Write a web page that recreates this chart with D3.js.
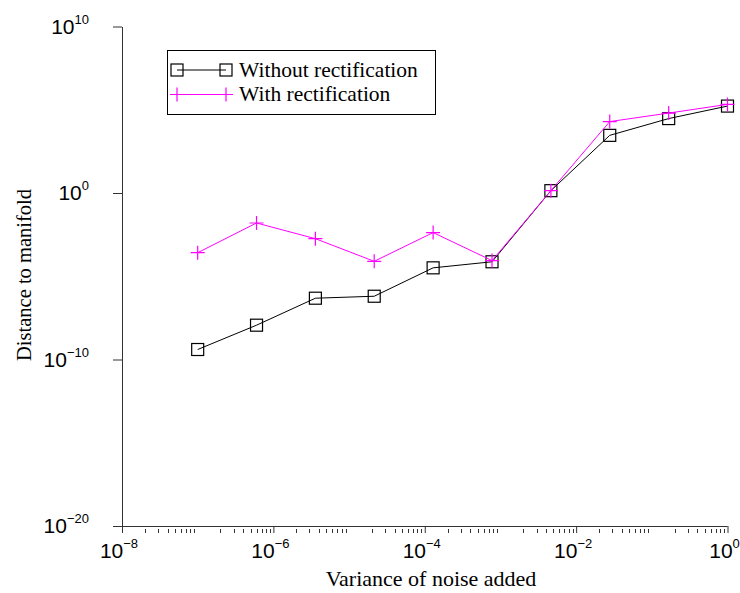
<!DOCTYPE html>
<html><head><meta charset="utf-8">
<script src="https://cdn.jsdelivr.net/npm/d3@7"></script>
<style>body{margin:0;background:#fff}svg{display:block}</style>
</head><body>
<script>
const noiseVariance = [1e-7, 5.99e-7, 3.59e-6, 2.15e-5, 1.29e-4, 7.74e-4, 4.64e-3, 2.78e-2, 1.67e-1, 1];
const withoutRect = [3.98e-10, 1.15e-8, 4.8e-7, 6.3e-7, 3.2e-5, 7.4e-5, 1.38, 2.9e3, 2.95e4, 1.66e5];
const withRect = [2.6e-4, 1.58e-2, 1.8e-3, 7.9e-5, 4.2e-3, 8.7e-5, 1.38, 1.95e4, 6.3e4, 2.1e5];
const xTickExps = [-8, -6, -4, -2, 0];
const yTickExps = [10, 0, -10, -20];
const seriesNames = ["Without rectification", "With rectification"];

const W = 740, H = 593;
const svg = d3.select("body").append("svg").attr("width", W).attr("height", H);
const x = d3.scaleLog().domain([1e-8, 1]).range([122, 727.5]);
const y = d3.scaleLog().domain([1e-20, 1e10]).range([526, 26.5]);
const axisColor = "#333";

// x axis
const gx = svg.append("g").attr("transform", `translate(0,${y(1e-20)})`)
  .call(d3.axisBottom(x).tickValues(xTickExps.map(e => Math.pow(10, e))).tickSize(7).tickFormat("").tickSizeOuter(0));
gx.select(".domain").attr("stroke", axisColor).attr("d", `M113,0.5H${x(1)}`);
gx.selectAll(".tick line").attr("stroke", axisColor);
// minor ticks
const minors = [];
for (let e = -8; e < 0; e++) for (let k = 2; k <= 9; k++) minors.push(k * Math.pow(10, e));
svg.append("g").selectAll("line").data(minors).join("line")
  .attr("x1", d => Math.round(x(d)) + 0.5).attr("x2", d => Math.round(x(d)) + 0.5)
  .attr("y1", y(1e-20) + 3).attr("y2", y(1e-20) + 7)
  .attr("stroke", axisColor).attr("stroke-width", 1);
// x labels
xTickExps.forEach(e => {
  const t = svg.append("text").attr("x", x(Math.pow(10, e)) - 3).attr("y", y(1e-20) + 32)
    .attr("text-anchor", "middle").attr("font-family", "Liberation Sans, Arial, sans-serif").attr("font-size", 21).attr("fill", "#000");
  t.append("tspan").text("10");
  t.append("tspan").attr("dy", -10).attr("font-size", 13).text(e < 0 ? "\u2212" + (-e) : String(e));
});

// y axis
const gy = svg.append("g").attr("transform", `translate(${x(1e-8)},0)`)
  .call(d3.axisLeft(y).tickValues(yTickExps.map(e => Math.pow(10, e))).tickSize(9).tickFormat("").tickSizeOuter(0));
gy.select(".domain").attr("stroke", axisColor);
gy.selectAll(".tick line").attr("stroke", axisColor);
yTickExps.forEach(e => {
  const t = svg.append("text").attr("x", 89).attr("y", y(Math.pow(10, e)) + 7)
    .attr("text-anchor", "end").attr("font-family", "Liberation Sans, Arial, sans-serif").attr("font-size", 21).attr("fill", "#000");
  t.append("tspan").text("10");
  t.append("tspan").attr("dy", -10).attr("font-size", 13).text(e < 0 ? "\u2212" + (-e) : String(e));
});

// titles
svg.append("text").attr("x", 431).attr("y", 586).attr("text-anchor", "middle")
  .attr("font-family", "Liberation Serif, Times New Roman, serif").attr("font-size", 22).text("Variance of noise added");
svg.append("text").attr("transform", "translate(31,275) rotate(-90)").attr("text-anchor", "middle")
  .attr("font-family", "Liberation Serif, Times New Roman, serif").attr("font-size", 20.5).text("Distance to manifold");

// series
const line = d3.line().x(d => x(d[0])).y(d => y(d[1]));
const dWithout = noiseVariance.map((v, i) => [v, withoutRect[i]]);
const dWith = noiseVariance.map((v, i) => [v, withRect[i]]);
svg.append("path").attr("d", line(dWithout)).attr("fill", "none").attr("stroke", "#000").attr("stroke-width", 1);
svg.append("g").selectAll("rect").data(dWithout).join("rect")
  .attr("x", d => x(d[0]) - 6).attr("y", d => y(d[1]) - 6).attr("width", 12).attr("height", 12)
  .attr("fill", "none").attr("stroke", "#000").attr("stroke-width", 1.2);
svg.append("path").attr("d", line(dWith)).attr("fill", "none").attr("stroke", "#ff00ff").attr("stroke-width", 1);
const plus = (g, cx, cy) => {
  g.append("path").attr("d", `M${cx - 7},${cy}H${cx + 7}M${cx},${cy - 7}V${cy + 7}`)
    .attr("stroke", "#ff00ff").attr("stroke-width", 1.2).attr("fill", "none");
};
const gp = svg.append("g");
dWith.forEach(d => plus(gp, x(d[0]), y(d[1])));

// legend
const lg = svg.append("g");
lg.append("rect").attr("x", 167.5).attr("y", 50.5).attr("width", 268).attr("height", 64)
  .attr("fill", "#fff").attr("stroke", "#000").attr("stroke-width", 1);
const rows = [70, 94.5];
lg.append("line").attr("x1", 177).attr("x2", 226).attr("y1", rows[0]).attr("y2", rows[0]).attr("stroke", "#000");
[177, 226].forEach(cx => lg.append("rect").attr("x", cx - 6).attr("y", rows[0] - 6).attr("width", 12).attr("height", 12)
  .attr("fill", "none").attr("stroke", "#000").attr("stroke-width", 1.2));
lg.append("line").attr("x1", 177).attr("x2", 226).attr("y1", rows[1]).attr("y2", rows[1]).attr("stroke", "#ff00ff");
[177, 226].forEach(cx => plus(lg, cx, rows[1]));
seriesNames.forEach((n, i) => lg.append("text").attr("x", 239).attr("y", rows[i] + 6.5)
  .attr("font-family", "Liberation Serif, Times New Roman, serif").attr("font-size", 21.5).text(n));
</script>
</body></html>
